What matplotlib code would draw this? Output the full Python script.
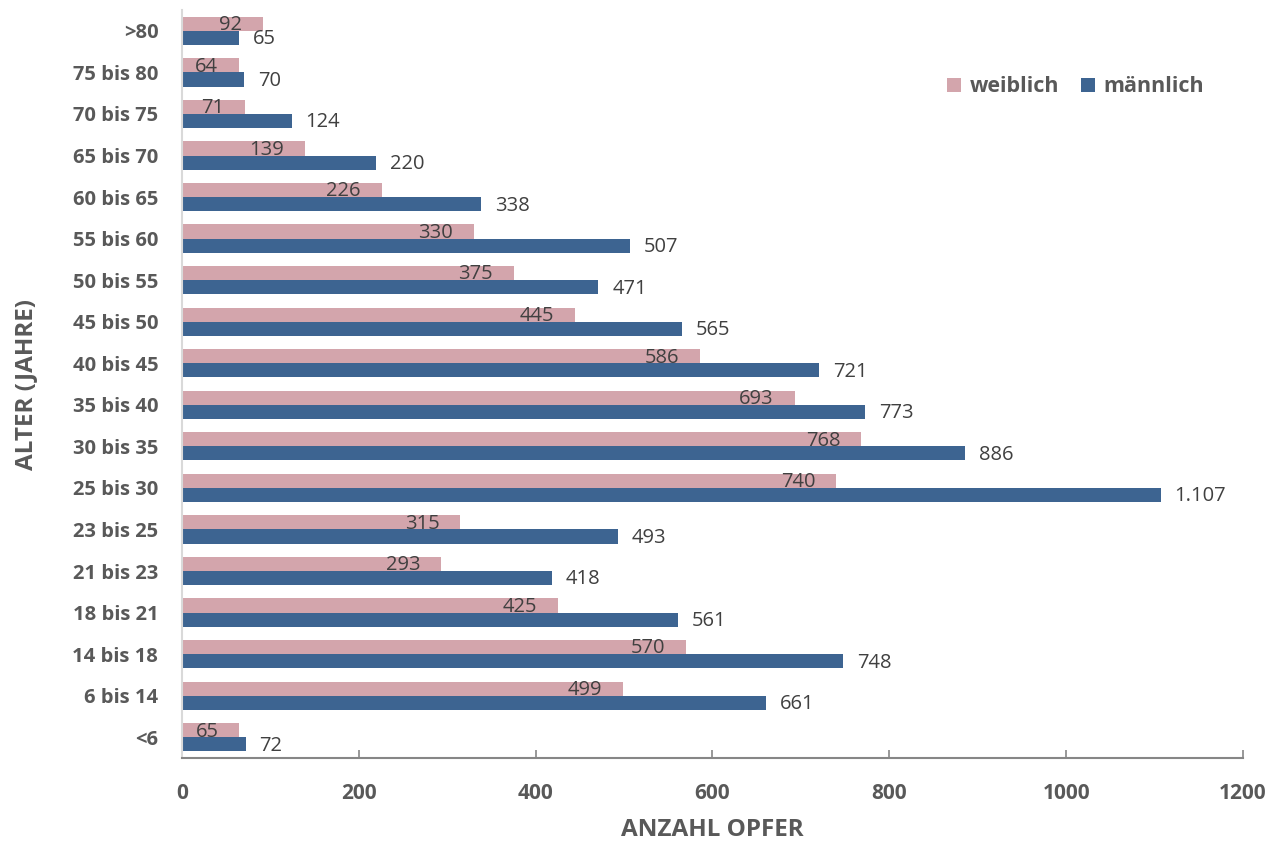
import numpy as np
import matplotlib.pyplot as plt

plt.rcParams['font.family'] = ['Open Sans', 'DejaVu Sans']

# age groups, bottom to top
alter = ['<6', '6 bis 14', '14 bis 18', '18 bis 21', '21 bis 23', '23 bis 25',
         '25 bis 30', '30 bis 35', '35 bis 40', '40 bis 45', '45 bis 50',
         '50 bis 55', '55 bis 60', '60 bis 65', '65 bis 70', '70 bis 75',
         '75 bis 80', '>80']
weiblich = [65, 499, 570, 425, 293, 315, 740, 768, 693, 586, 445, 375, 330,
            226, 139, 71, 64, 92]
maennlich = [72, 661, 748, 561, 418, 493, 1107, 886, 773, 721, 565, 471, 507,
             338, 220, 124, 70, 65]

c_w = '#D3A5AC'
c_m = '#3D6491'
grau = '#595959'

def fmt(v):
    return f'{v:,}'.replace(',', '.')

fig = plt.figure(figsize=(12.85, 8.41), dpi=100)
ax = fig.add_axes([0.1416, 0.0987, 0.8257, 0.8893])

y = np.arange(len(alter))
h = 0.34
bw = ax.barh(y + h/2, weiblich, height=h, color=c_w, label='weiblich')
bm = ax.barh(y - h/2, maennlich, height=h, color=c_m, label='männlich')

for yy, v in zip(y, weiblich):
    ax.annotate(fmt(v), (v, yy + h/2), xytext=(-15, -1), textcoords='offset points',
                ha='right', va='center', fontsize=14.5, color='#404040')
for yy, v in zip(y, maennlich):
    ax.annotate(fmt(v), (v, yy - h/2), xytext=(10, -1), textcoords='offset points',
                ha='left', va='center', fontsize=14.5, color='#404040')

ax.set_xlim(0, 1200)
ax.set_ylim(-0.5, len(alter) - 0.5)
ax.set_xticks(np.arange(0, 1201, 200))
ax.set_yticks(y)
ax.set_yticklabels(alter)

for s in ['top', 'right']:
    ax.spines[s].set_visible(False)
ax.spines['left'].set_color('#D9D9D9')
ax.spines['left'].set_linewidth(1.5)
ax.spines['bottom'].set_color('#868686')
ax.spines['bottom'].set_linewidth(1.5)

ax.tick_params(axis='x', direction='in', length=6, width=1.2, color='#868686',
               labelsize=15, labelcolor=grau, pad=18)
ax.tick_params(axis='y', length=0, labelsize=14.5, labelcolor=grau, pad=17)
for t in ax.get_xticklabels() + ax.get_yticklabels():
    t.set_fontweight('bold')

ax.set_xlabel('ANZAHL OPFER', fontsize=17.5, fontweight='bold', color=grau, labelpad=10)
ax.set_ylabel('ALTER (JAHRE)', fontsize=17.5, fontweight='bold', color=grau, labelpad=25)

leg = ax.legend(handles=[bw, bm], ncol=2, frameon=False, loc='center',
                bbox_to_anchor=(0.837, 0.8966), bbox_transform=fig.transFigure,
                prop={'size': 15.5, 'weight': 'bold'}, handlelength=0.65,
                handleheight=0.65, handletextpad=0.4, columnspacing=1.0)
for t in leg.get_texts():
    t.set_color(grau)

fig.savefig('out.png', dpi=100)
